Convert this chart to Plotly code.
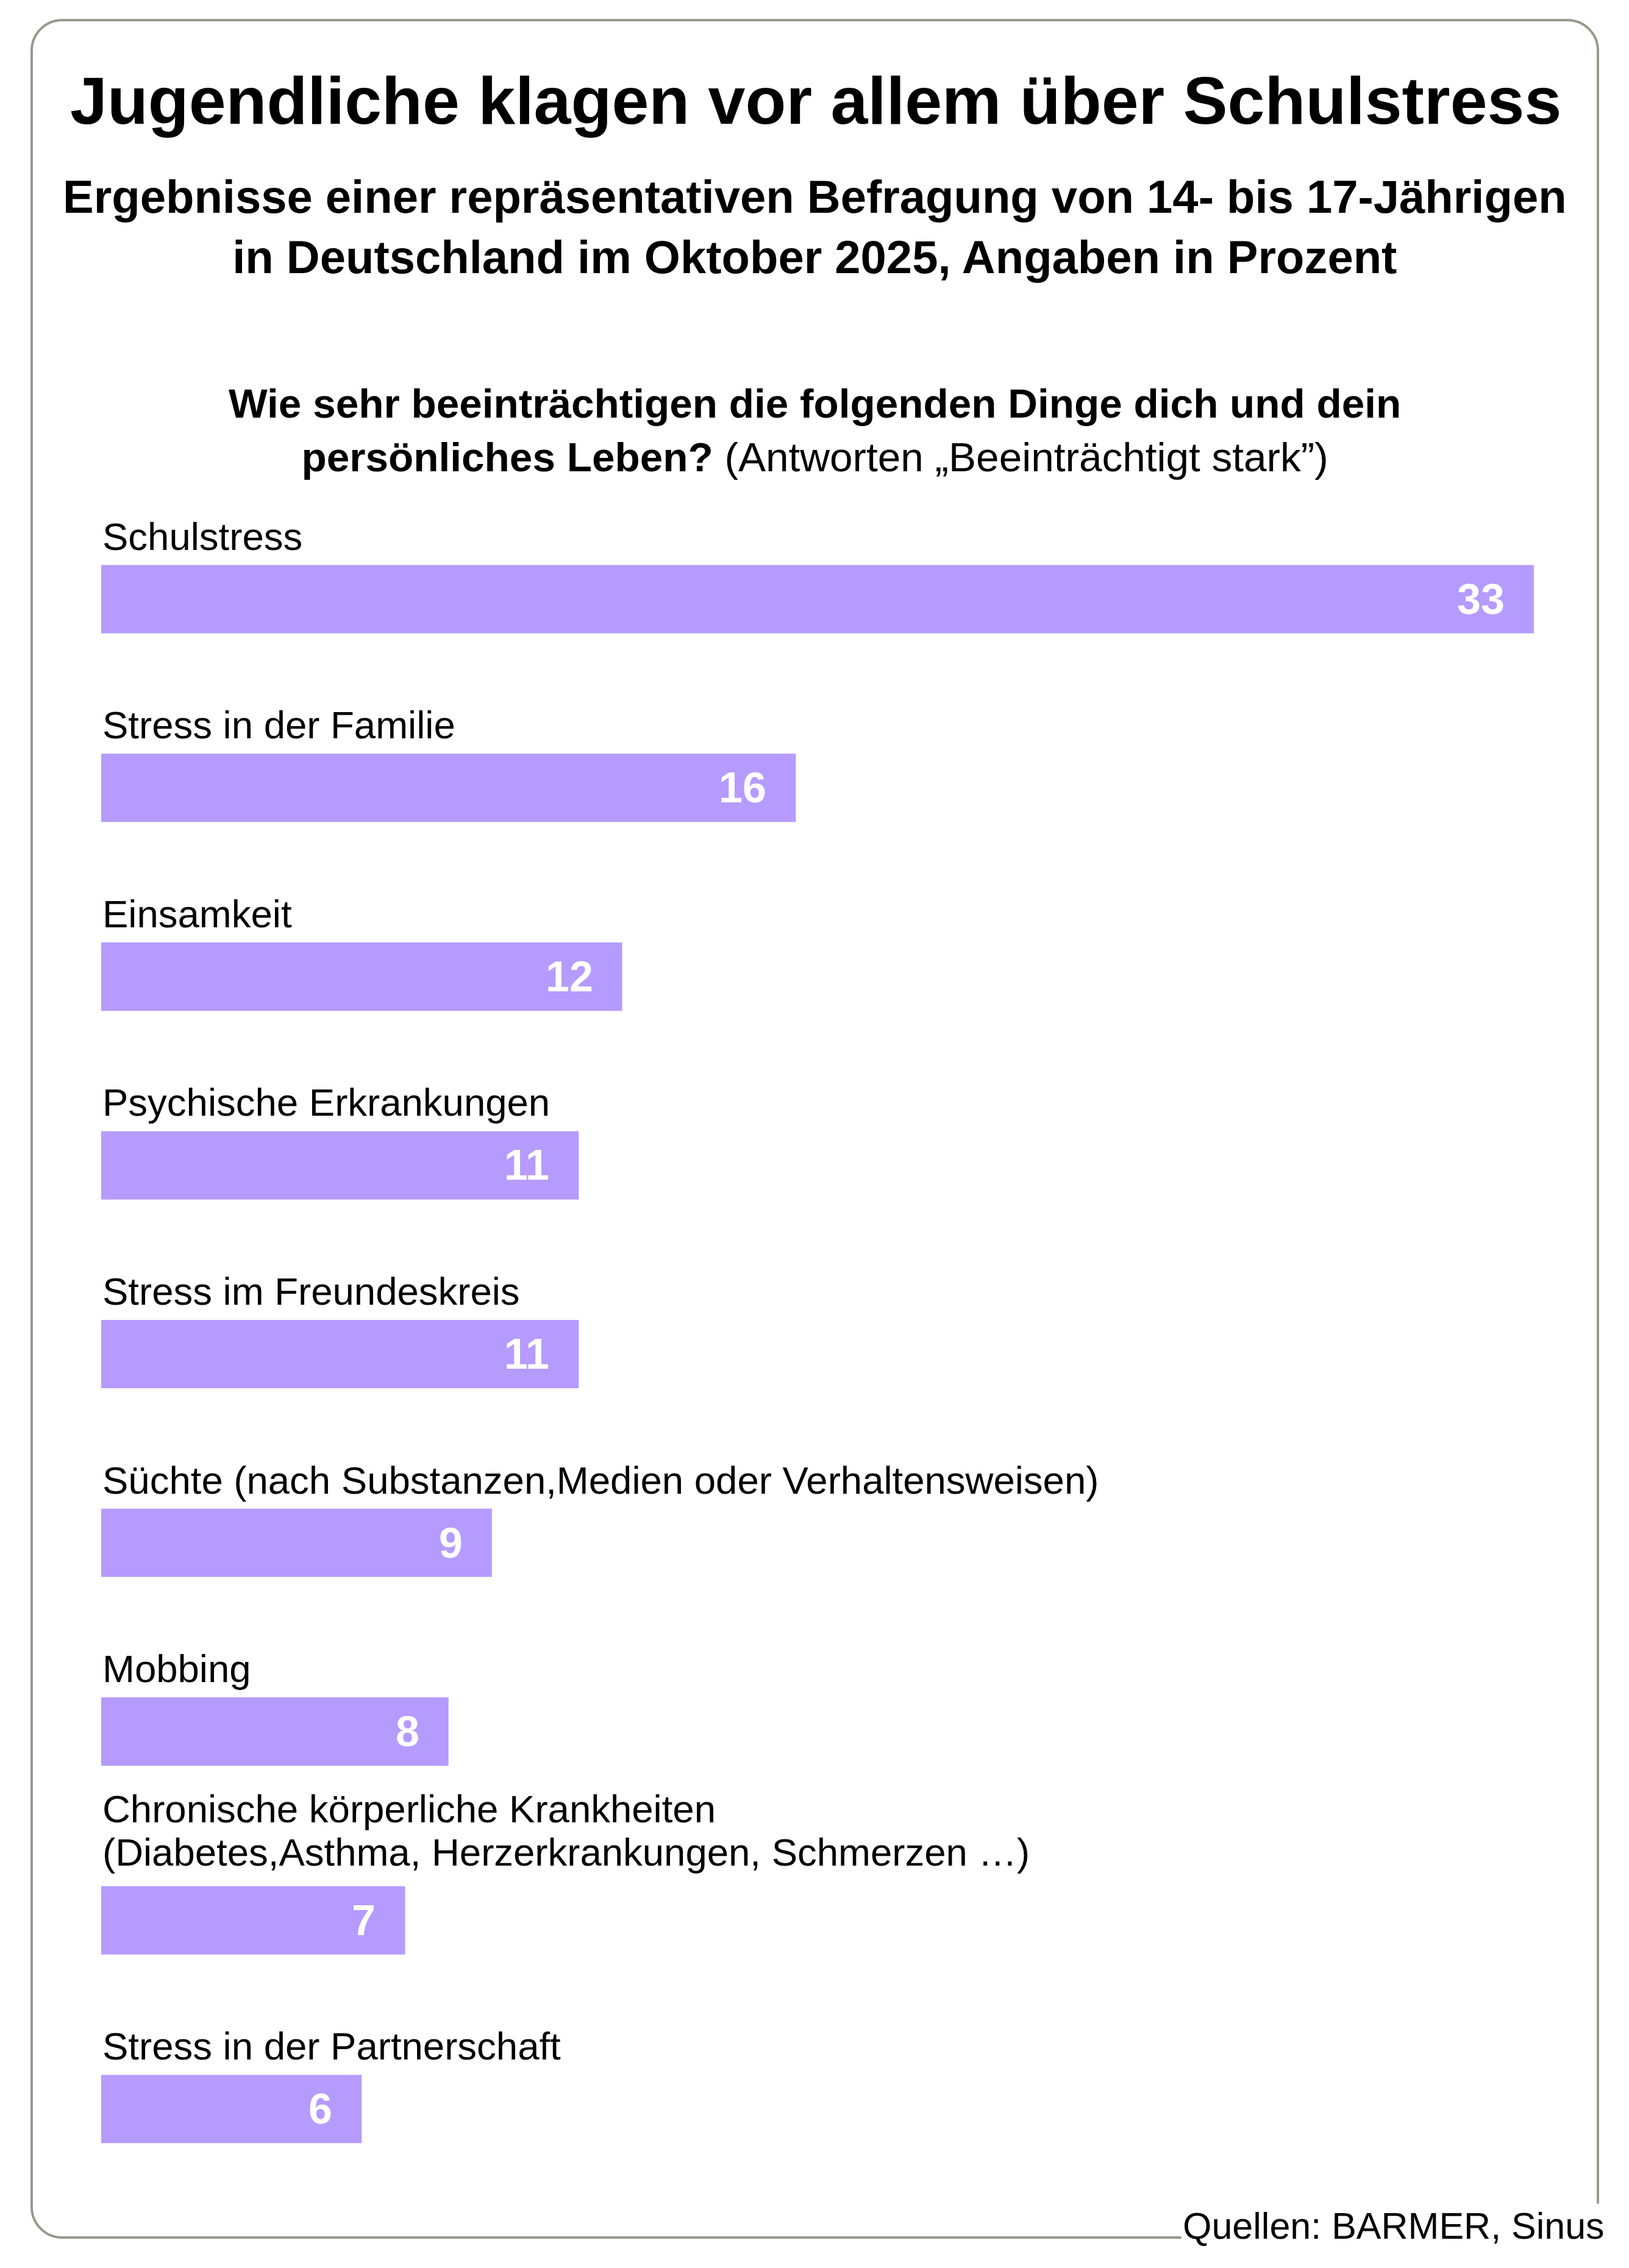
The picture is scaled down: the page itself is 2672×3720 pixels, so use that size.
import plotly.graph_objects as go

# Daten
kategorien = [
    "Schulstress",
    "Stress in der Familie",
    "Einsamkeit",
    "Psychische Erkrankungen",
    "Stress im Freundeskreis",
    "Süchte (nach Substanzen,Medien oder Verhaltensweisen)",
    "Mobbing",
    "Chronische körperliche Krankheiten<br>(Diabetes,Asthma, Herzerkrankungen, Schmerzen …)",
    "Stress in der Partnerschaft",
]
werte = [33, 16, 12, 11, 11, 9, 8, 7, 6]

titel = "Jugendliche klagen vor allem über Schulstress"
untertitel = ("Ergebnisse einer repräsentativen Befragung von 14- bis 17-Jährigen<br>"
              "in Deutschland im Oktober 2025, Angaben in Prozent")
frage = ("<b>Wie sehr beeinträchtigen die folgenden Dinge dich und dein<br>"
         "persönliches Leben?</b> (Antworten „Beeinträchtigt stark”)")
quelle = "Quellen: BARMER, Sinus"

# Seite 2672x3720, der Browser setzt 8px Rand um die Grafik
RAND = 8
W, H = 2672 - RAND, 3720 - RAND
FONT = "Liberation Sans, Arial, Helvetica, sans-serif"
BAR = "#b59bfe"
RAHMEN = "#9b978b"


def px(x):
    return (x - RAND) / W


def py(y):
    return 1 - (y - RAND) / H


fig = go.Figure()
fig.add_trace(go.Bar(
    x=werte, y=kategorien, orientation="h",
    marker=dict(color=BAR, line=dict(width=0)),
    width=0.362, hoverinfo="skip",
))

# Rahmen mit abgerundeten Ecken (Pixel -> Papierkoordinaten)
x0, x1, y0, y1, r = 52, 2621, 33, 3670, 50
k = r * 0.5523
pts = [
    ("M", [(x0 + r, y0)]),
    ("L", [(x1 - r, y0)]),
    ("C", [(x1 - r + k, y0), (x1, y0 + r - k), (x1, y0 + r)]),
    ("L", [(x1, y1 - r)]),
    ("C", [(x1, y1 - r + k), (x1 - r + k, y1), (x1 - r, y1)]),
    ("L", [(x0 + r, y1)]),
    ("C", [(x0 + r - k, y1), (x0, y1 - r + k), (x0, y1 - r)]),
    ("L", [(x0, y0 + r)]),
    ("C", [(x0, y0 + r - k), (x0 + r - k, y0), (x0 + r, y0)]),
]
path = " ".join(cmd + " " + " ".join(f"{px(a):.5f},{py(b):.5f}" for a, b in p) for cmd, p in pts) + " Z"
fig.add_shape(type="path", path=path, xref="paper", yref="paper",
              line=dict(color=RAHMEN, width=4), layer="below")

ann = []
# Kategorie-Beschriftungen über den Balken
for kat in kategorien:
    zeilen = kat.split("<br>")
    basis = 103 if len(zeilen) == 1 else 112
    for i, z in enumerate(reversed(zeilen)):
        ann.append(dict(x=0, y=kat, xref="x", yref="y", text=z, showarrow=False,
                        xanchor="left", yanchor="middle", yshift=basis + 71 * i,
                        font=dict(size=63.5, color="black", family=FONT)))
# Werte in den Balken
for kat, v in zip(kategorien, werte):
    ann.append(dict(x=v, y=kat, xref="x", yref="y", text=f"<b>{v}</b>", showarrow=False,
                    xanchor="right", yanchor="middle", xshift=-46,
                    font=dict(size=70, color="white", family=FONT)))

ann.append(dict(x=px(1338), y=py(165), xref="paper", yref="paper", text=f"<b>{titel}</b>",
                showarrow=False, xanchor="center", yanchor="middle",
                font=dict(size=109.5, color="black", family=FONT)))
ann.append(dict(x=px(1336), y=py(372), xref="paper", yref="paper", text=f"<b>{untertitel}</b>",
                showarrow=False, xanchor="center", yanchor="middle",
                font=dict(size=76, color="black", family=FONT)))
ann.append(dict(x=px(1336), y=py(705), xref="paper", yref="paper", text=frage,
                showarrow=False, xanchor="center", yanchor="middle",
                font=dict(size=67.5, color="black", family=FONT)))
ann.append(dict(x=px(2635), y=py(3651), xref="paper", yref="paper", text=quelle,
                showarrow=False, xanchor="right", yanchor="middle", bgcolor="white",
                borderpad=2, font=dict(size=61, color="black", family=FONT)))

fig.update_layout(
    width=W, height=H,
    margin=dict(l=0, r=0, t=0, b=0),
    paper_bgcolor="white", plot_bgcolor="white",
    showlegend=False, annotations=ann,
    xaxis=dict(domain=[px(166), px(2516)], range=[0, 33], visible=False, fixedrange=True),
    yaxis=dict(domain=[py(3614), py(828)], range=[8.5, -0.5], visible=False,
               type="category", categoryorder="array", categoryarray=kategorien),
)

fig.write_html("out.html")
